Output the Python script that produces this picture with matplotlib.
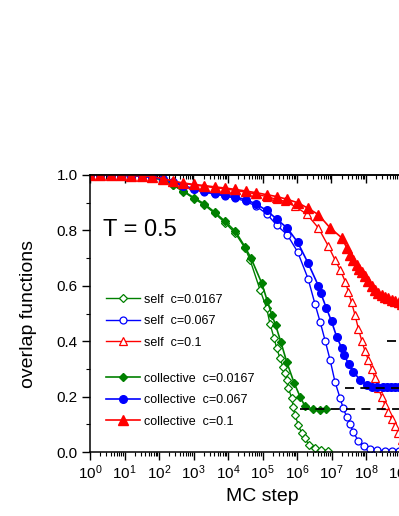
import numpy as np
import matplotlib
matplotlib.use("Agg")
import matplotlib.pyplot as plt
from matplotlib.ticker import LogLocator, MultipleLocator, NullFormatter

plt.rcParams['font.family'] = ['Liberation Sans', 'DejaVu Sans']
plt.rcParams['mathtext.default'] = 'regular'

# data: log10(MC step) and overlap value
logt_gc = [0, 0.30, 0.60, 0.90, 1.20, 1.51, 1.81, 2.11, 2.41, 2.71, 3.01, 3.31, 3.61, 3.91, 4.21,
           4.49, 4.67, 4.98, 5.14, 5.27, 5.38, 5.53, 5.70, 5.92, 6.09, 6.23, 6.47, 6.67, 6.84]
q_gc = [1.0, 1.0, 1.0, 1.0, 0.999, 0.997, 0.993, 0.983, 0.965, 0.942, 0.918, 0.896, 0.866, 0.833, 0.797,
        0.741, 0.699, 0.609, 0.545, 0.495, 0.458, 0.398, 0.326, 0.248, 0.200, 0.165, 0.154, 0.152, 0.154]

logt_gs = [0, 0.30, 0.60, 0.90, 1.20, 1.51, 1.81, 2.11, 2.41, 2.71, 3.01, 3.31, 3.61, 3.91, 4.21,
           4.50, 4.64, 4.93, 5.12, 5.22, 5.34, 5.41, 5.51, 5.59, 5.65, 5.70, 5.75, 5.85, 5.89, 5.94,
           6.04, 6.14, 6.23, 6.35, 6.52, 6.69, 6.91]
q_gs = [1.0, 1.0, 1.0, 1.0, 0.999, 0.997, 0.992, 0.982, 0.963, 0.940, 0.915, 0.892, 0.862, 0.828, 0.790,
        0.735, 0.693, 0.585, 0.519, 0.461, 0.410, 0.374, 0.338, 0.308, 0.284, 0.260, 0.230, 0.194, 0.164, 0.134,
        0.097, 0.067, 0.049, 0.025, 0.013, 0.007, 0.005]

logt_bc = [0, 0.30, 0.60, 0.90, 1.20, 1.51, 1.81, 2.11, 2.41, 2.71, 3.01, 3.31, 3.61, 3.91, 4.21,
           4.52, 4.82, 5.12, 5.42, 5.72, 6.02, 6.32, 6.62, 6.69, 6.85, 7.00, 7.15, 7.30, 7.36, 7.50,
           7.63, 7.83, 8.02, 8.17, 8.33, 8.48, 8.60, 8.72, 8.84, 8.95, 9.07, 9.20]
q_bc = [1.0, 1.0, 1.0, 0.999, 0.998, 0.996, 0.992, 0.986, 0.975, 0.962, 0.950, 0.941, 0.934, 0.928, 0.921,
        0.911, 0.895, 0.872, 0.840, 0.808, 0.757, 0.682, 0.600, 0.573, 0.520, 0.472, 0.416, 0.374, 0.350, 0.318,
        0.290, 0.260, 0.242, 0.236, 0.234, 0.233, 0.233, 0.233, 0.233, 0.233, 0.233, 0.233]

logt_bs = [0, 0.30, 0.60, 0.90, 1.20, 1.51, 1.81, 2.11, 2.41, 2.71, 3.01, 3.31, 3.61, 3.91, 4.21,
           4.52, 4.82, 5.12, 5.42, 5.72, 6.02, 6.32, 6.52, 6.67, 6.82, 6.96, 7.10, 7.25, 7.34, 7.44,
           7.54, 7.63, 7.78, 7.95, 8.12, 8.33, 8.55, 8.74, 8.95, 9.15]
q_bs = [1.0, 1.0, 1.0, 0.999, 0.998, 0.996, 0.991, 0.985, 0.973, 0.960, 0.948, 0.938, 0.931, 0.924, 0.916,
        0.905, 0.887, 0.860, 0.818, 0.784, 0.722, 0.626, 0.535, 0.470, 0.400, 0.332, 0.254, 0.194, 0.158, 0.127,
        0.100, 0.072, 0.040, 0.020, 0.010, 0.006, 0.005, 0.004, 0.004, 0.004]

logt_rc = [0, 0.30, 0.60, 0.90, 1.20, 1.51, 1.81, 2.11, 2.41, 2.71, 3.01, 3.31, 3.61, 3.91, 4.21,
           4.52, 4.82, 5.12, 5.42, 5.72, 6.02, 6.32, 6.62, 6.96, 7.30, 7.45, 7.54, 7.63, 7.73, 7.80,
           7.88, 7.97, 8.07, 8.17, 8.26, 8.36, 8.45, 8.55, 8.65, 8.75, 8.85, 8.95, 9.05]
q_rc = [1.0, 1.0, 1.0, 0.999, 0.998, 0.997, 0.994, 0.987, 0.978, 0.971, 0.966, 0.962, 0.957, 0.953, 0.948,
        0.942, 0.936, 0.929, 0.922, 0.912, 0.900, 0.880, 0.857, 0.809, 0.773, 0.735, 0.712, 0.693, 0.676, 0.662,
        0.650, 0.634, 0.616, 0.598, 0.584, 0.574, 0.566, 0.560, 0.555, 0.550, 0.545, 0.540, 0.535]

logt_rs = [0, 0.30, 0.60, 0.90, 1.20, 1.51, 1.81, 2.11, 2.41, 2.71, 3.01, 3.31, 3.61, 3.91, 4.21,
           4.52, 4.82, 5.12, 5.42, 5.65, 5.94, 6.28, 6.62, 6.91, 7.10, 7.25, 7.40, 7.49, 7.58, 7.68,
           7.78, 7.88, 7.97, 8.07, 8.17, 8.26, 8.36, 8.46, 8.55, 8.65, 8.74, 8.84, 8.94, 9.05]
q_rs = [1.0, 1.0, 1.0, 0.999, 0.998, 0.996, 0.993, 0.986, 0.977, 0.969, 0.964, 0.959, 0.954, 0.950, 0.944,
        0.938, 0.931, 0.922, 0.912, 0.905, 0.887, 0.859, 0.809, 0.743, 0.694, 0.658, 0.615, 0.578, 0.540, 0.495,
        0.445, 0.400, 0.365, 0.332, 0.300, 0.266, 0.230, 0.198, 0.170, 0.145, 0.118, 0.095, 0.068, 0.045]

# plateau levels (dashed) and where they start
plateau_q = [0.155, 0.231, 0.40]
plateau_start = [6.09, 7.39, 8.6]

conc = ["0.0167", "0.067", "0.1"]
colors = ["#008000", "#0000ff", "#ff0000"]

fig = plt.figure(figsize=(3.99, 5.16), dpi=100)
# axes runs past the right edge of the picture (cropped original)
ax = fig.add_axes([90/399, 64/516, 345/399, 277/516])

self_data = [(logt_gs, q_gs), (logt_bs, q_bs), (logt_rs, q_rs)]
coll_data = [(logt_gc, q_gc), (logt_bc, q_bc), (logt_rc, q_rc)]
mk = ["D", "o", "^"]
self_ms = [4.0, 5.0, 5.5]
coll_ms = [4.0, 5.5, 6.5]

self_handles = []
coll_handles = []
for i in range(3):
    lt, q = self_data[i]
    h, = ax.plot(10**np.array(lt), q, color=colors[i], lw=1.0, marker=mk[i],
                 ms=self_ms[i], mfc="white", mec=colors[i], mew=0.9,
                 label="self  c=" + conc[i])
    self_handles.append(h)
for i in range(3):
    lt, q = coll_data[i]
    h, = ax.plot(10**np.array(lt), q, color=colors[i], lw=1.2, marker=mk[i],
                 ms=coll_ms[i], mfc=colors[i], mec=colors[i],
                 label="collective  c=" + conc[i])
    coll_handles.append(h)

for qv, st in zip(plateau_q, plateau_start):
    ax.hlines(qv, 10**st, 1e10, colors="black", linestyles=(0, (5, 3.5)), lw=1.3)

ax.set_xscale("log")
ax.set_xlim(1, 1e10)
ax.set_ylim(0, 1.0)
ax.xaxis.set_major_locator(LogLocator(base=10, numticks=20))
ax.xaxis.set_minor_locator(LogLocator(base=10, subs=np.arange(2, 10), numticks=100))
ax.xaxis.set_minor_formatter(NullFormatter())
ax.yaxis.set_major_locator(MultipleLocator(0.2))
ax.yaxis.set_minor_locator(MultipleLocator(0.1))

for s in ax.spines.values():
    s.set_linewidth(1.1)
ax.tick_params(axis="both", which="major", direction="out", length=5.5, width=1.0, labelsize=11)
ax.tick_params(axis="both", which="minor", direction="out", length=3, width=0.8)
ax.tick_params(axis="x", which="major", pad=3)

# top axis: same decades, ticks pointing inward, no labels
top = ax.secondary_xaxis("top")
top.xaxis.set_major_locator(LogLocator(base=10, numticks=20))
top.xaxis.set_minor_locator(LogLocator(base=10, subs=np.arange(2, 10), numticks=100))
top.xaxis.set_minor_formatter(NullFormatter())
top.tick_params(which="major", direction="in", length=5.5, width=1.0, labeltop=False)
top.tick_params(which="minor", direction="in", length=3, width=0.8)
top.spines["top"].set_linewidth(1.1)

ax.set_xlabel("MC step", fontsize=14)
ax.set_ylabel("overlap functions", fontsize=14)
ax.yaxis.set_label_coords(-0.155, 0.5)

ax.text(0.038, 0.78, "T = 0.5", transform=ax.transAxes, fontsize=17, va="baseline")

leg1 = ax.legend(handles=self_handles, loc="upper left", bbox_to_anchor=(0.046, 0.571),
                 frameon=False, fontsize=9, numpoints=1, handlelength=2.7,
                 handletextpad=0.35, labelspacing=0.75, borderaxespad=0, borderpad=0)
ax.add_artist(leg1)
ax.legend(handles=coll_handles, loc="upper left", bbox_to_anchor=(0.046, 0.286),
          frameon=False, fontsize=9, numpoints=1, handlelength=2.7,
          handletextpad=0.35, labelspacing=0.75, borderaxespad=0, borderpad=0)

fig.savefig("out.png", dpi=100)
